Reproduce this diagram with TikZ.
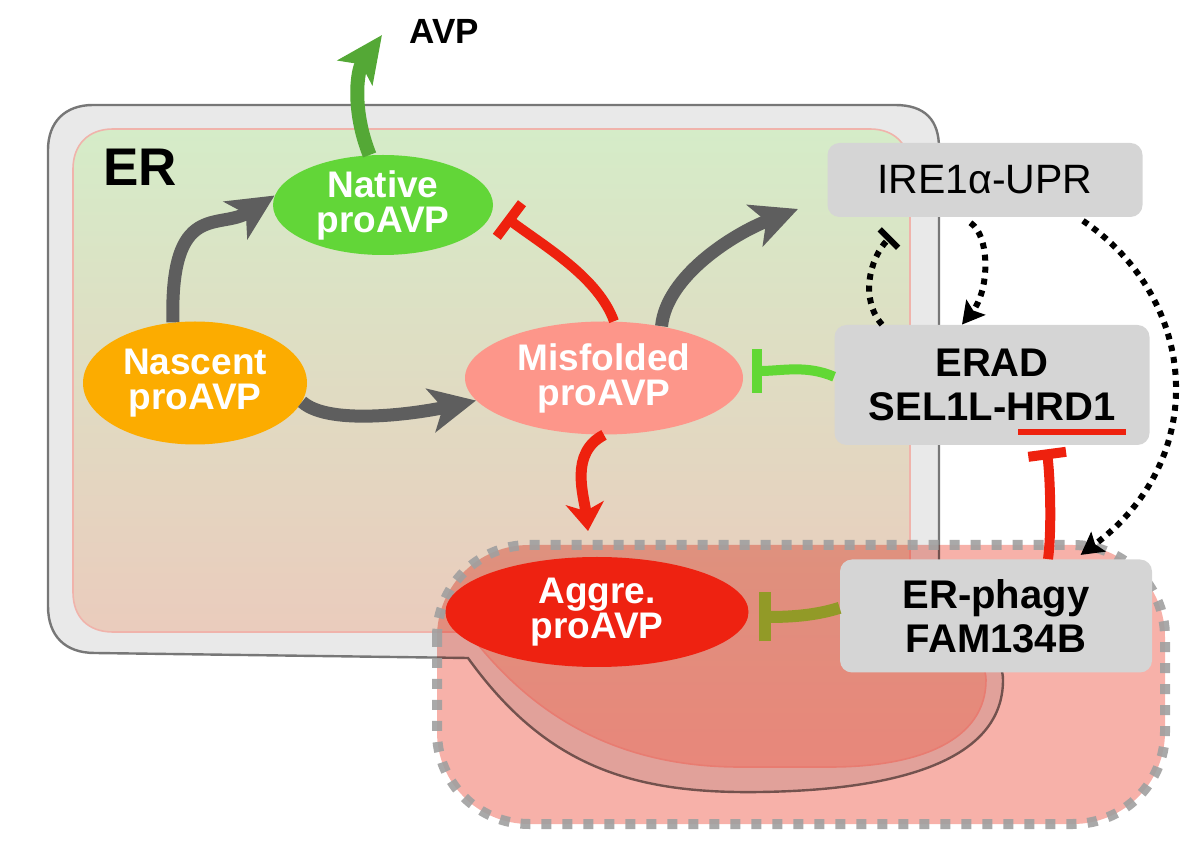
\documentclass[tikz,border=0pt]{standalone}
\usepackage{fontspec}
\setmainfont{Liberation Sans}
\usetikzlibrary{arrows.meta,shapes.geometric}
\definecolor{nascentc}{HTML}{FCAC00}
\definecolor{nativec}{HTML}{62D638}
\definecolor{misfoldc}{HTML}{FD968A}
\definecolor{aggrec}{HTML}{EE2211}
\definecolor{boxgray}{HTML}{D5D5D5}
\definecolor{flowgray}{HTML}{5E5E5E}
\definecolor{inhred}{HTML}{EE210E}
\definecolor{inhgreen}{HTML}{62D835}
\definecolor{olivec}{HTML}{929A27}
\definecolor{avpgreen}{HTML}{54A836}
\definecolor{ermem}{HTML}{777777}
\definecolor{erband}{HTML}{E9E9E9}
\definecolor{erline}{HTML}{F0B3AB}
\definecolor{ertop}{HTML}{D5ECC8}
\definecolor{erbottom}{HTML}{F0C3BA}
\definecolor{phago}{HTML}{F7B1A9}
\definecolor{dashgray}{HTML}{A0A0A0}
\tikzset{
  protein/.style={ellipse, inner sep=0pt, text=white, align=center, font=\bfseries\fontsize{18.5pt}{17.5pt}\selectfont},
  pathway/.style={rectangle, rounded corners=6pt, fill=boxgray, inner sep=0pt, align=center, font=\bfseries\fontsize{20pt}{22pt}\selectfont},
  flow/.style={draw=flowgray, line width=6.5pt, -{Stealth[length=23pt,width=22pt,inset=6pt]}},
  inhibit/.style 2 args={draw=#1, line width=5pt, -{Bar[width=#2]}},
  dots/.style={draw=black, line width=3pt, dash pattern=on 3pt off 3pt},
}
\begin{document}
\begin{tikzpicture}[x=0.5pt,y=-0.5pt]
    \useasboundingbox (0,0) rectangle (1200,860);
    \draw[draw=ermem, line width=1.2pt, fill=erband] (48,150) .. controls (48,122) and (65,105) .. (93,105) -- (895,105) .. controls (925,105) and (939,120) .. (939,148) -- (939,600) .. controls (939,630) and (1003,640) .. (1003,680) .. controls (1003,760) and (900,790) .. (760,792) .. controls (630,794) and (545,765) .. (468,658) -- (95,653) .. controls (65,653) and (48,636) .. (48,606) -- cycle;
    \draw[draw=erline, line width=0.8pt, top color=ertop, bottom color=erbottom] (73,169) .. controls (73,145) and (88,129) .. (113,129) -- (870,129) .. controls (895,129) and (910,145) .. (910,170) -- (910,590) .. controls (910,625) and (986,640) .. (986,680) .. controls (986,740) and (920,767) .. (830,767) -- (740,767) .. controls (600,767) and (520,700) .. (468,632) -- (113,632) .. controls (88,632) and (73,617) .. (73,592) -- cycle;
    \begin{scope}[blend mode=multiply]
        \fill[phago, rounded corners=46pt] (437,545) rectangle (1165,824);
    \end{scope}
    \draw[draw=dashgray, draw opacity=0.9, line width=5pt, dash pattern=on 5pt off 5.5pt, rounded corners=46pt] (437,545) rectangle (1165,824);

    \node[protein, fill=nascentc, minimum width=112pt, minimum height=61.5pt] (nascent) at (195,383) {Nascent\\proAVP};
    \node[protein, fill=nativec, minimum width=110pt, minimum height=50pt] (native) at (383,205) {Native\\proAVP};
    \node[protein, fill=misfoldc, minimum width=139pt, minimum height=56.5pt] (misfolded) at (604,378) {Misfolded\\proAVP};
    \node[protein, fill=aggrec, minimum width=151.5pt, minimum height=55pt] (aggre) at (597,612) {Aggre.\\proAVP};
    \node[pathway, font=\fontsize{20.5pt}{22pt}\selectfont, minimum width=157.5pt, minimum height=37pt] (ire) at (985,180) {IRE1α-UPR};
    \node[pathway, minimum width=157.5pt, minimum height=60pt] (erad) at (992,385) {ERAD\\SEL1L-HRD1};
    \node[pathway, minimum width=156pt, minimum height=56.5pt] (erphagy) at (996,616) {ER-phagy\\FAM134B};
    \node[font=\bfseries\fontsize{26.5pt}{30pt}\selectfont] (er) at (140,167) {ER};
    \node[font=\bfseries\fontsize{17.5pt}{20pt}\selectfont] (avp) at (444,31) {AVP};
    \coordinate (iretip) at (798,209);
    \coordinate (avptip) at (382,35);
    \coordinate (aggtip) at (588,531);

    \draw[flow] (nascent.110) .. controls +(-3,-123) and +(-55,35) .. (native.175);
    \draw[flow] (nascent.-10) .. controls +(28,25) and +(-55,12) .. (misfolded.190);
    \draw[flow] (misfolded.42) .. controls +(5,-50) and +(-65,25) .. (iretip);
    \draw[draw=avpgreen, line width=7pt, -{Stealth[length=23pt,width=21pt,inset=5pt]}] (native.105) .. controls +(-18,-45) and +(-25,35) .. (avptip);
    \draw[draw=inhred, line width=5.5pt, -{Stealth[length=14pt,width=19pt,inset=4pt]}] (misfolded.south) .. controls +(-35,18) and +(-4,-35) .. (aggtip);
    \draw[inhibit={inhred}{21pt}] (misfolded.80) .. controls +(-16,-44) and +(40,30) .. ([shift={(12,12)}]native.east);
    \draw[inhibit={inhgreen}{22pt}] (erad.177) .. controls +(-28,-12) and +(30,0) .. ([shift={(9,-7)}]misfolded.east);
    \draw[inhibit={olivec}{24.5pt}, line width=6pt] (erphagy.177) .. controls +(-25,8) and +(30,0) .. ([shift={(10,5)}]aggre.east);
    \draw[inhibit={inhred}{19pt}, shorten >=2pt] ([xshift=26pt]erphagy.north) .. controls +(4,-30) and +(4,30) .. ([xshift=27pt]erad.south);
    \draw[dots, -{Stealth[length=11pt,width=12pt,inset=2pt]}, shorten <=5pt] ([xshift=-11.5pt]ire.south) .. controls +(28,18) and +(28,-35) .. ([xshift=-15pt]erad.north);
    \draw[dots, -{Bar[width=13pt]}] ([xshift=-55pt]erad.north) .. controls +(-22,-25) and +(-22,22) .. ([shift={(64,19)}]ire.south west);
    \draw[dots, -{Stealth[length=11pt,width=12pt,inset=2pt]}, shorten <=3pt, shorten >=3.5pt] ([xshift=46.5pt]ire.south) .. controls +(122,83) and +(135,-100) .. ([xshift=39.5pt]erphagy.north);
    \draw[draw=inhred, line width=3pt] ([shift={(26,47)}]erad.center) -- ([shift={(134,47)}]erad.center);
\end{tikzpicture}
\end{document}
